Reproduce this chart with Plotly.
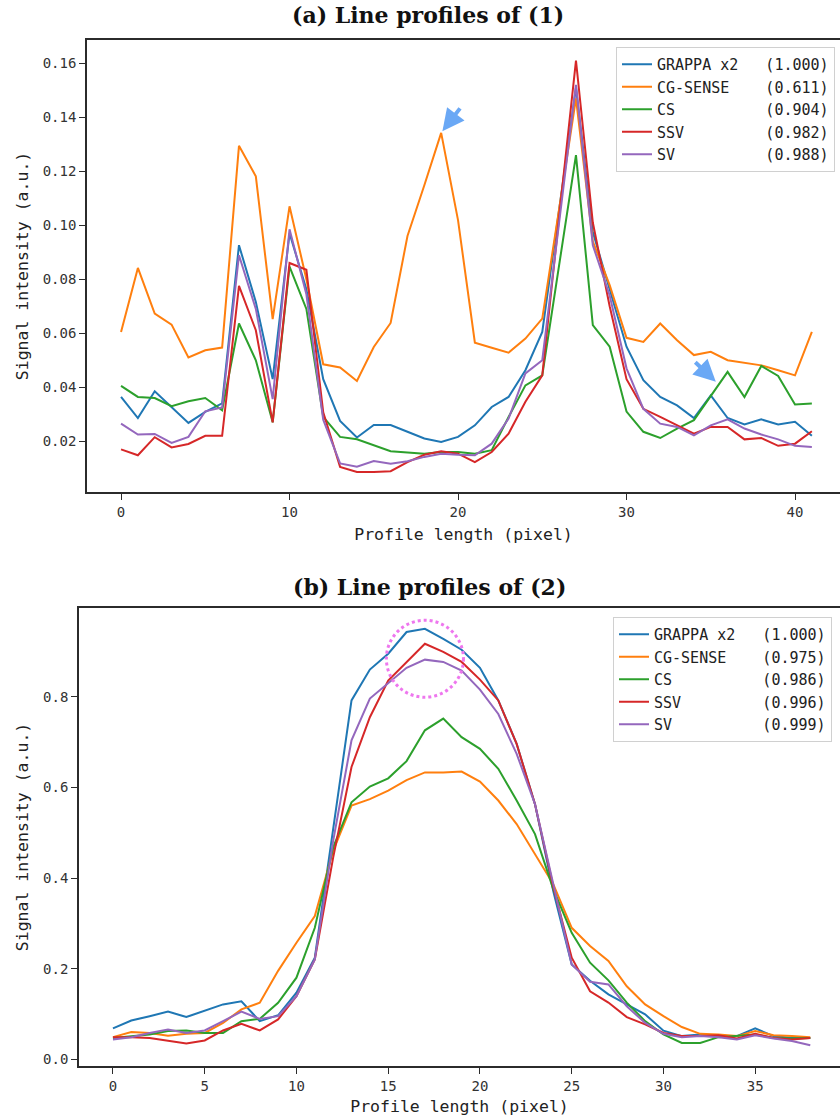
import plotly.graph_objects as go

# ---------------- data ----------------
names = ["GRAPPA x2", "CG-SENSE", "CS", "SSV", "SV"]
colors = ["#1f77b4", "#ff7f0e", "#2ca02c", "#d62728", "#9467bd"]
scores_a = ["1.000", "0.611", "0.904", "0.982", "0.988"]
scores_b = ["1.000", "0.975", "0.986", "0.996", "0.999"]

x_a = list(range(42))
grappa_a = [0.0364, 0.0286, 0.0385, 0.0327, 0.0268, 0.0309, 0.034, 0.0926, 0.0716, 0.043,
            0.097, 0.0763, 0.043, 0.0275, 0.0214, 0.026, 0.026, 0.0235, 0.021, 0.0197,
            0.0216, 0.0259, 0.0327, 0.0364, 0.0463, 0.0605, 0.106, 0.151, 0.0975, 0.0765,
            0.055, 0.0426, 0.0364, 0.0333, 0.0286, 0.037, 0.0286, 0.0262, 0.0281, 0.0262,
            0.0272, 0.022]
cgsense_a = [0.0605, 0.0842, 0.0673, 0.0632, 0.051, 0.0537, 0.0547, 0.1294, 0.1181, 0.0652,
             0.107, 0.080, 0.0485, 0.0473, 0.0423, 0.0549, 0.0638, 0.096, 0.1148, 0.1342,
             0.1019, 0.0565, 0.0546, 0.0528, 0.058, 0.0654, 0.106, 0.147, 0.094, 0.0778,
             0.0583, 0.0568, 0.0636, 0.0574, 0.0519, 0.0531, 0.050, 0.049, 0.0481, 0.0463,
             0.0444, 0.0605]
cs_a = [0.0405, 0.0364, 0.036, 0.033, 0.0348, 0.036, 0.0315, 0.0636, 0.05, 0.027,
        0.0847, 0.069, 0.029, 0.0216, 0.0207, 0.0185, 0.0163, 0.0158, 0.0154, 0.016,
        0.016, 0.0154, 0.0167, 0.029, 0.0407, 0.0444, 0.085, 0.126, 0.063, 0.055,
        0.031, 0.0235, 0.0212, 0.0247, 0.0278, 0.037, 0.0457, 0.0364, 0.0479, 0.0442,
        0.0336, 0.034]
ssv_a = [0.017, 0.0148, 0.0215, 0.0177, 0.019, 0.022, 0.022, 0.0775, 0.0611, 0.027,
         0.086, 0.0835, 0.0307, 0.0105, 0.0086, 0.0086, 0.0089, 0.0123, 0.015, 0.0163,
         0.0154, 0.0123, 0.016, 0.0228, 0.0346, 0.0444, 0.103, 0.161, 0.101, 0.07,
         0.043, 0.032, 0.029, 0.0259, 0.0228, 0.0253, 0.0253, 0.0207, 0.0212, 0.0183,
         0.0191, 0.0237]
sv_a = [0.0265, 0.0225, 0.0227, 0.0194, 0.0216, 0.0311, 0.0325, 0.0889, 0.069, 0.0356,
        0.0985, 0.0744, 0.028, 0.0118, 0.0106, 0.0127, 0.0117, 0.0126, 0.0142, 0.0154,
        0.015, 0.0148, 0.0191, 0.0284, 0.0451, 0.05, 0.101, 0.152, 0.0926, 0.074,
        0.047, 0.032, 0.0265, 0.0253, 0.0222, 0.0259, 0.0281, 0.0247, 0.0225, 0.0207,
        0.0183, 0.0179]

x_b = list(range(39))
grappa_b = [0.068, 0.0855, 0.095, 0.105, 0.093, 0.1077, 0.121, 0.128, 0.084, 0.097,
            0.147, 0.224, 0.504, 0.792, 0.86, 0.895, 0.943, 0.95, 0.928, 0.904,
            0.864, 0.792, 0.696, 0.563, 0.37, 0.209, 0.173, 0.143, 0.121, 0.099,
            0.063, 0.051, 0.0546, 0.051, 0.051, 0.068, 0.051, 0.047, 0.047]
cgsense_b = [0.0487, 0.060, 0.058, 0.052, 0.056, 0.058, 0.080, 0.11, 0.1246, 0.195,
             0.257, 0.316, 0.46, 0.56, 0.574, 0.593, 0.616, 0.633, 0.633, 0.635,
             0.613, 0.571, 0.519, 0.453, 0.386, 0.29, 0.25, 0.217, 0.161, 0.121,
             0.095, 0.071, 0.056, 0.0546, 0.051, 0.062, 0.053, 0.051, 0.0487]
cs_b = [0.047, 0.051, 0.0546, 0.062, 0.0634, 0.058, 0.058, 0.084, 0.089, 0.1246,
        0.18, 0.29, 0.468, 0.567, 0.602, 0.62, 0.658, 0.726, 0.752, 0.711,
        0.685, 0.641, 0.571, 0.497, 0.375, 0.279, 0.213, 0.174, 0.125, 0.084,
        0.0546, 0.036, 0.036, 0.0487, 0.051, 0.0546, 0.047, 0.0457, 0.047]
ssv_b = [0.0487, 0.0487, 0.047, 0.04, 0.0347, 0.0413, 0.0634, 0.078, 0.0634, 0.0878,
         0.139, 0.22, 0.445, 0.645, 0.755, 0.836, 0.877, 0.917, 0.899, 0.877,
         0.838, 0.792, 0.696, 0.563, 0.38, 0.224, 0.15, 0.125, 0.093, 0.077,
         0.058, 0.051, 0.051, 0.053, 0.0457, 0.056, 0.047, 0.0435, 0.047]
sv_b = [0.0435, 0.0487, 0.058, 0.0656, 0.058, 0.0634, 0.084, 0.105, 0.089, 0.095,
        0.139, 0.22, 0.482, 0.704, 0.796, 0.83, 0.864, 0.882, 0.877, 0.858,
        0.816, 0.762, 0.674, 0.563, 0.385, 0.209, 0.171, 0.165, 0.117, 0.080,
        0.056, 0.0487, 0.051, 0.0487, 0.0435, 0.053, 0.0457, 0.04, 0.031]

series_a = [grappa_a, cgsense_a, cs_a, ssv_a, sv_a]
series_b = [grappa_b, cgsense_b, cs_b, ssv_b, sv_b]

MONO = "DejaVu Sans Mono"
SERIF = "DejaVu Serif"
NB = "\u00a0"


def label(name, score):
    return name + NB * (12 - len(name)) + "(" + score + ")"


fig = go.Figure()
for n, c, s, ys in zip(names, colors, scores_a, series_a):
    fig.add_trace(go.Scatter(x=x_a, y=ys, mode="lines", name=label(n, s),
                             line=dict(color=c, width=2), xaxis="x", yaxis="y",
                             legend="legend"))
for n, c, s, ys in zip(names, colors, scores_b, series_b):
    fig.add_trace(go.Scatter(x=x_b, y=ys, mode="lines", name=label(n, s),
                             line=dict(color=c, width=2), xaxis="x2", yaxis="y2",
                             legend="legend2"))

W, H = 840, 1120
axis_common = dict(showline=True, linecolor="#2b2b2b", linewidth=1.6, ticks="outside",
                   ticklen=6, tickwidth=1.4, tickcolor="#2b2b2b", showgrid=False,
                   zeroline=False, tickfont=dict(family=MONO, size=14, color="#333"),
                   title_font=dict(family=MONO, size=16.5, color="#222"))

legend_common = dict(xanchor="left", yanchor="top", bgcolor="white",
                     bordercolor="#d0d0d0", borderwidth=1, itemwidth=30,
                     font=dict(family=MONO, size=15, color="#222"), tracegroupgap=0)

fig.update_layout(
    width=W, height=H, margin=dict(l=0, r=0, t=0, b=0),
    paper_bgcolor="white", plot_bgcolor="white",
    xaxis=dict(domain=[87 / W, 1], range=[-2.02, 42.67], dtick=10, tick0=0,
               anchor="y", mirror=True, title=dict(text="Profile length (pixel)", standoff=10),
               **axis_common),
    yaxis=dict(domain=[1 - 492 / H, 1 - 40 / H], range=[0.0012, 0.1686], dtick=0.02,
               tick0=0, tickformat=".2f", anchor="x",
               title=dict(text="Signal intensity (a.u.)", standoff=10), **axis_common),
    xaxis2=dict(domain=[79 / W, 1], range=[-1.85, 39.62], dtick=5, tick0=0,
                anchor="y2", mirror=True, title=dict(text="Profile length (pixel)", standoff=8),
                **axis_common),
    yaxis2=dict(domain=[1 - 1066 / H, 1 - 608 / H], range=[-0.015, 0.996], dtick=0.2,
                tick0=0, tickformat=".1f", anchor="x2",
                title=dict(text="Signal intensity (a.u.)", standoff=10), **axis_common),
    legend=dict(x=616 / W, y=1 - 47 / H, **legend_common),
    legend2=dict(x=613 / W, y=1 - 617 / H, **legend_common),
    showlegend=True,
)

# panel captions
fig.add_annotation(text="<b>(a) Line profiles of (1)</b>", xref="paper", yref="paper",
                   x=428 / W, y=1 - 15 / H, showarrow=False, xanchor="center", yanchor="middle",
                   font=dict(family=SERIF, size=22, color="#111"))
fig.add_annotation(text="<b>(b) Line profiles of (2)</b>", xref="paper", yref="paper",
                   x=430 / W, y=1 - 587 / H, showarrow=False, xanchor="center", yanchor="middle",
                   font=dict(family=SERIF, size=22, color="#111"))

# blue arrows in panel (a)
arrow_color = "#6aa8f5"
peak_i = cgsense_a.index(max(cgsense_a[15:25]))
fig.add_annotation(x=peak_i, y=cgsense_a[peak_i], xref="x", yref="y", ax=20, ay=-26,
                   text="", showarrow=True, arrowhead=2, arrowsize=1.1, arrowwidth=4,
                   arrowcolor=arrow_color, standoff=2)
fig.add_annotation(x=35.3, y=cs_a[35] + 0.005, xref="x", yref="y", ax=-22, ay=-21,
                   text="", showarrow=True, arrowhead=2, arrowsize=1.1, arrowwidth=4,
                   arrowcolor=arrow_color, standoff=0)

# dotted circle in panel (b) around the peak
pk = grappa_b.index(max(grappa_b))
fig.add_shape(type="circle", xref="x2", yref="y2", x0=pk - 2.1, x1=pk + 2.1,
              y0=0.799, y1=0.969, line=dict(color="#ee77ee", width=3, dash="dot"))

fig.write_html("out.html")
